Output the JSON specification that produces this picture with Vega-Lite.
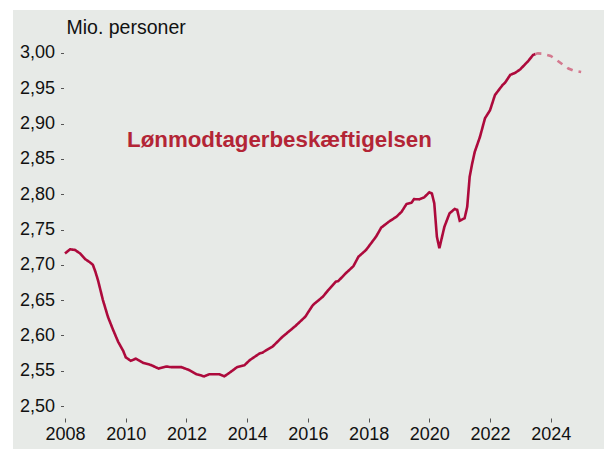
{
  "$schema": "https://vega.github.io/schema/vega-lite/v6.json",
  "autosize": {"type": "none"},
  "width": 591,
  "height": 439,
  "padding": {"left": 13, "top": 10, "right": 0, "bottom": 0},
  "background": "white",
  "config": {
    "view": {"fill": "#e7eae7", "stroke": null},
    "font": "Liberation Sans",
    "locale": {"number": {"decimal": ",", "thousands": ".", "grouping": [3], "currency": ["", " kr."]}}
  },
  "layer": [
    {
      "data": {"values": [
        {"date": "2008-01-01", "value": 2.716, "series": "actual"},
        {"date": "2008-03-01", "value": 2.722, "series": "actual"},
        {"date": "2008-05-01", "value": 2.721, "series": "actual"},
        {"date": "2008-07-01", "value": 2.716, "series": "actual"},
        {"date": "2008-09-01", "value": 2.708, "series": "actual"},
        {"date": "2008-11-01", "value": 2.703, "series": "actual"},
        {"date": "2008-12-01", "value": 2.700, "series": "actual"},
        {"date": "2009-01-01", "value": 2.690, "series": "actual"},
        {"date": "2009-02-01", "value": 2.678, "series": "actual"},
        {"date": "2009-04-01", "value": 2.650, "series": "actual"},
        {"date": "2009-06-01", "value": 2.626, "series": "actual"},
        {"date": "2009-08-01", "value": 2.608, "series": "actual"},
        {"date": "2009-10-01", "value": 2.591, "series": "actual"},
        {"date": "2009-12-01", "value": 2.578, "series": "actual"},
        {"date": "2010-01-01", "value": 2.569, "series": "actual"},
        {"date": "2010-03-01", "value": 2.564, "series": "actual"},
        {"date": "2010-05-01", "value": 2.567, "series": "actual"},
        {"date": "2010-06-01", "value": 2.565, "series": "actual"},
        {"date": "2010-08-01", "value": 2.561, "series": "actual"},
        {"date": "2010-11-01", "value": 2.558, "series": "actual"},
        {"date": "2011-02-01", "value": 2.553, "series": "actual"},
        {"date": "2011-04-01", "value": 2.555, "series": "actual"},
        {"date": "2011-05-01", "value": 2.556, "series": "actual"},
        {"date": "2011-07-01", "value": 2.555, "series": "actual"},
        {"date": "2011-11-01", "value": 2.555, "series": "actual"},
        {"date": "2012-02-01", "value": 2.551, "series": "actual"},
        {"date": "2012-05-01", "value": 2.545, "series": "actual"},
        {"date": "2012-08-01", "value": 2.542, "series": "actual"},
        {"date": "2012-10-01", "value": 2.545, "series": "actual"},
        {"date": "2013-02-01", "value": 2.545, "series": "actual"},
        {"date": "2013-04-01", "value": 2.542, "series": "actual"},
        {"date": "2013-06-01", "value": 2.547, "series": "actual"},
        {"date": "2013-09-01", "value": 2.555, "series": "actual"},
        {"date": "2013-12-01", "value": 2.558, "series": "actual"},
        {"date": "2014-02-01", "value": 2.565, "series": "actual"},
        {"date": "2014-06-01", "value": 2.5746, "series": "actual"},
        {"date": "2014-07-01", "value": 2.5755, "series": "actual"},
        {"date": "2014-11-01", "value": 2.584, "series": "actual"},
        {"date": "2015-03-01", "value": 2.598, "series": "actual"},
        {"date": "2015-08-01", "value": 2.613, "series": "actual"},
        {"date": "2015-12-01", "value": 2.6265, "series": "actual"},
        {"date": "2016-03-01", "value": 2.643, "series": "actual"},
        {"date": "2016-07-01", "value": 2.655, "series": "actual"},
        {"date": "2016-09-01", "value": 2.664, "series": "actual"},
        {"date": "2016-12-01", "value": 2.676, "series": "actual"},
        {"date": "2017-01-01", "value": 2.677, "series": "actual"},
        {"date": "2017-04-01", "value": 2.688, "series": "actual"},
        {"date": "2017-07-01", "value": 2.698, "series": "actual"},
        {"date": "2017-09-01", "value": 2.7115, "series": "actual"},
        {"date": "2017-12-01", "value": 2.721, "series": "actual"},
        {"date": "2018-04-01", "value": 2.740, "series": "actual"},
        {"date": "2018-06-01", "value": 2.7526, "series": "actual"},
        {"date": "2018-09-01", "value": 2.761, "series": "actual"},
        {"date": "2018-12-01", "value": 2.768, "series": "actual"},
        {"date": "2019-02-01", "value": 2.775, "series": "actual"},
        {"date": "2019-04-01", "value": 2.786, "series": "actual"},
        {"date": "2019-06-01", "value": 2.788, "series": "actual"},
        {"date": "2019-07-01", "value": 2.793, "series": "actual"},
        {"date": "2019-09-01", "value": 2.7927, "series": "actual"},
        {"date": "2019-11-01", "value": 2.7956, "series": "actual"},
        {"date": "2020-01-01", "value": 2.8027, "series": "actual"},
        {"date": "2020-02-01", "value": 2.801, "series": "actual"},
        {"date": "2020-03-01", "value": 2.787, "series": "actual"},
        {"date": "2020-04-01", "value": 2.740, "series": "actual"},
        {"date": "2020-05-01", "value": 2.7234, "series": "actual"},
        {"date": "2020-07-01", "value": 2.754, "series": "actual"},
        {"date": "2020-09-01", "value": 2.773, "series": "actual"},
        {"date": "2020-11-01", "value": 2.779, "series": "actual"},
        {"date": "2020-12-01", "value": 2.778, "series": "actual"},
        {"date": "2021-01-01", "value": 2.7625, "series": "actual"},
        {"date": "2021-03-01", "value": 2.766, "series": "actual"},
        {"date": "2021-04-01", "value": 2.782, "series": "actual"},
        {"date": "2021-05-01", "value": 2.825, "series": "actual"},
        {"date": "2021-06-01", "value": 2.844, "series": "actual"},
        {"date": "2021-07-01", "value": 2.860, "series": "actual"},
        {"date": "2021-09-01", "value": 2.881, "series": "actual"},
        {"date": "2021-11-01", "value": 2.9075, "series": "actual"},
        {"date": "2022-01-01", "value": 2.919, "series": "actual"},
        {"date": "2022-03-01", "value": 2.9405, "series": "actual"},
        {"date": "2022-06-01", "value": 2.9547, "series": "actual"},
        {"date": "2022-07-01", "value": 2.958, "series": "actual"},
        {"date": "2022-09-01", "value": 2.969, "series": "actual"},
        {"date": "2022-11-01", "value": 2.972, "series": "actual"},
        {"date": "2023-01-01", "value": 2.977, "series": "actual"},
        {"date": "2023-03-01", "value": 2.9844, "series": "actual"},
        {"date": "2023-04-01", "value": 2.988, "series": "actual"},
        {"date": "2023-06-01", "value": 2.997, "series": "actual"},
        {"date": "2023-07-01", "value": 2.9986, "series": "actual"},
        {"date": "2023-07-01", "value": 2.9986, "series": "forecast"},
        {"date": "2023-08-01", "value": 2.9995, "series": "forecast"},
        {"date": "2023-10-01", "value": 2.999, "series": "forecast"},
        {"date": "2024-01-01", "value": 2.9958, "series": "forecast"},
        {"date": "2024-03-01", "value": 2.991, "series": "forecast"},
        {"date": "2024-06-01", "value": 2.983, "series": "forecast"},
        {"date": "2024-08-01", "value": 2.978, "series": "forecast"},
        {"date": "2024-10-01", "value": 2.975, "series": "forecast"},
        {"date": "2025-01-01", "value": 2.973, "series": "forecast"}
      ]},
      "mark": {"type": "line", "strokeWidth": 2.6, "interpolate": "linear"},
      "encoding": {
        "x": {
          "field": "date", "type": "temporal",
          "scale": {"type": "utc", "domain": [{"year": 2006, "month": 4, "date": 15, "utc": true}, {"year": 2025, "month": 10, "date": 3, "utc": true}]},
          "axis": {
            "title": null, "domain": false, "grid": false, "offset": -31,
            "tickCount": {"interval": "year", "step": 2}, "format": "%Y",
            "tickSize": 4, "tickColor": "#555", "tickWidth": 1,
            "labelFontSize": 18, "labelColor": "#111", "labelPadding": 3, "labelFlush": false,
            "labelFont": "Liberation Sans"
          }
        },
        "y": {
          "field": "value", "type": "quantitative",
          "scale": {"domain": [2.4391, 3.0609], "nice": false, "zero": false},
          "axis": {
            "title": "Mio. personer", "titleAngle": 0, "titleAlign": "left", "titleBaseline": "alphabetic",
            "titleX": 2.5, "titleY": 23, "titleFontSize": 19.5, "titleFontWeight": "normal", "titleColor": "#111",
            "titleFont": "Liberation Sans",
            "domain": false, "grid": false, "offset": -50.5,
            "values": [2.5, 2.55, 2.6, 2.65, 2.7, 2.75, 2.8, 2.85, 2.9, 2.95, 3.0], "format": ".2f",
            "tickSize": 3, "tickColor": "#555", "tickWidth": 1,
            "labelFontSize": 18, "labelColor": "#111", "labelPadding": 6, "labelFont": "Liberation Sans"
          }
        },
        "color": {
          "field": "series", "type": "nominal",
          "scale": {"domain": ["actual", "forecast"], "range": ["#ad0a3c", "#d4798f"]},
          "legend": null
        },
        "strokeDash": {
          "field": "series", "type": "nominal",
          "scale": {"domain": ["actual", "forecast"], "range": [[1, 0], [6, 6]]},
          "legend": null
        }
      }
    },
    {
      "data": {"values": [{"label": "Lønmodtagerbeskæftigelsen"}]},
      "mark": {"type": "text", "align": "left", "baseline": "alphabetic", "fontSize": 22.3, "fontWeight": "bold", "font": "Liberation Sans", "color": "#b32536"},
      "encoding": {
        "x": {"datum": {"year": 2010, "month": 1, "date": 16, "utc": true}, "type": "temporal"},
        "y": {"datum": 2.8673, "type": "quantitative"},
        "text": {"field": "label"}
      }
    }
  ]
}
